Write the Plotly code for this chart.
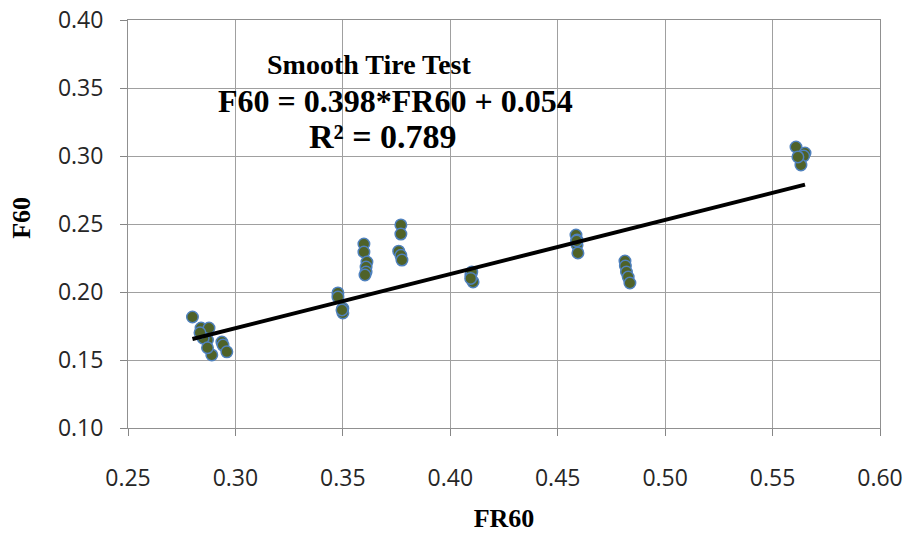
import plotly.graph_objects as go

# Data
fr60 = [0.280, 0.284, 0.2877, 0.287, 0.285, 0.2937, 0.2942, 0.296, 0.289, 0.287, 0.2835,
        0.3477, 0.3477, 0.350, 0.350, 0.3496,
        0.3598, 0.3598, 0.3612, 0.3608, 0.3608, 0.3603,
        0.377, 0.377, 0.376, 0.377, 0.3775,
        0.4096, 0.4106, 0.410, 0.4095,
        0.4585, 0.459, 0.459, 0.4594, 0.4588,
        0.4813, 0.4815, 0.482, 0.4828, 0.4836,
        0.5609, 0.5651, 0.5645, 0.5632, 0.5618]
f60 = [0.1816, 0.1735, 0.1735, 0.1647, 0.166, 0.1632, 0.161, 0.156, 0.1537, 0.159, 0.170,
       0.1993, 0.1963, 0.188, 0.1846, 0.1868,
       0.2353, 0.2294, 0.222, 0.2184, 0.2147, 0.2125,
       0.2493, 0.2426, 0.230, 0.227, 0.2235,
       0.2125, 0.2074, 0.2147, 0.210,
       0.2419, 0.2382, 0.2346, 0.2287, 0.2375,
       0.2228, 0.2191, 0.2147, 0.211, 0.2066,
       0.3066, 0.3022, 0.300, 0.2934, 0.2993]
slope = 0.398
intercept = 0.054
x_ticks = [0.25, 0.30, 0.35, 0.40, 0.45, 0.50, 0.55, 0.60]
y_ticks = [0.10, 0.15, 0.20, 0.25, 0.30, 0.35, 0.40]

x_fit = [min(fr60), max(fr60)]
y_fit = [slope * v + intercept for v in x_fit]

fig = go.Figure()
fig.add_trace(go.Scatter(
    x=fr60, y=f60, mode="markers",
    marker=dict(size=11.5, color="#4F6228", line=dict(color="#4F81BD", width=1.5)),
    showlegend=False))
fig.add_trace(go.Scatter(
    x=x_fit, y=y_fit, mode="lines",
    line=dict(color="black", width=4), showlegend=False))

serif = "Liberation Serif"
fig.add_annotation(x=0.3626, y=0.3676, text="<b>Smooth Tire Test</b>", showarrow=False,
                   font=dict(family=serif, size=28, color="black"))
fig.add_annotation(x=0.3743, y=0.3404, text="<b>F60 = 0.398*FR60 + 0.054</b>", showarrow=False,
                   font=dict(family=serif, size=32, color="black"))
fig.add_annotation(x=0.3687, y=0.3140, text="<b>R² = 0.789</b>", showarrow=False,
                   font=dict(family=serif, size=34, color="black"))
# y axis title
fig.add_annotation(xref="paper", yref="paper", x=-0.141, y=0.515, text="<b>F60</b>",
                   textangle=-90, showarrow=False, xanchor="center", yanchor="middle",
                   font=dict(family=serif, size=26, color="black"))

axis_common = dict(showgrid=True, gridcolor="#A0A0A0", gridwidth=1,
                   showline=True, linecolor="#909090", linewidth=1, mirror=True,
                   ticks="outside", ticklen=7, tickcolor="#868686",
                   tickfont=dict(family="Open Sans", size=23, color="#262626"),
                   ticklabeloverflow="allow",
                   zeroline=False, automargin=False)

fig.update_xaxes(range=[0.25, 0.60], tickvals=x_ticks,
                 ticktext=[f"{v:.2f}" for v in x_ticks],
                 ticklabelstandoff=22,
                 title=dict(text="<b>FR60</b>", font=dict(family=serif, size=26, color="black"), standoff=22),
                 **axis_common)
fig.update_yaxes(range=[0.10, 0.40], tickvals=y_ticks,
                 ticktext=[f"{v:.2f}" for v in y_ticks],
                 ticklabelstandoff=12,
                 **axis_common)

fig.update_layout(width=908, height=533, margin=dict(l=128, r=28, t=20, b=105),
                  plot_bgcolor="white", paper_bgcolor="white")

# remove the default page margin so the figure fills the window exactly
fig.write_html("out.html", config={"displayModeBar": False},
               post_script="document.body.style.margin='0';")
